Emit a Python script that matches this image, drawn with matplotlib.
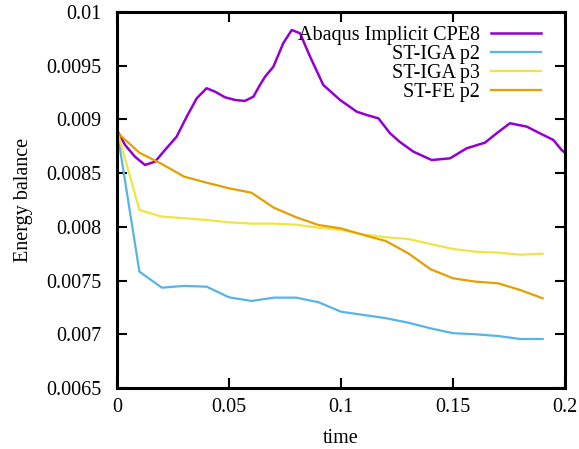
import matplotlib
matplotlib.use('Agg')
import matplotlib.pyplot as plt
from matplotlib.ticker import FuncFormatter

# time steps for the ST runs
t_st = [0.0, 0.01, 0.02, 0.03, 0.04, 0.05, 0.06, 0.07, 0.08, 0.09, 0.10,
        0.11, 0.12, 0.13, 0.14, 0.15, 0.16, 0.17, 0.18, 0.19]

iga_p2 = [0.00890, 0.007583, 0.007434, 0.007450, 0.007443, 0.007344, 0.007310,
          0.007341, 0.007341, 0.007298, 0.007210, 0.007180, 0.007150, 0.007108,
          0.007055, 0.007010, 0.007000, 0.006984, 0.006956, 0.006956]
iga_p3 = [0.00890, 0.008157, 0.008095, 0.008080, 0.008064, 0.008042, 0.008030,
          0.008030, 0.008020, 0.007992, 0.007971, 0.007930, 0.007903, 0.007887,
          0.007840, 0.007794, 0.007769, 0.007760, 0.007741, 0.007750]
fe_p2 = [0.00888, 0.008690, 0.008585, 0.008467, 0.008411, 0.008359, 0.008318,
         0.008178, 0.008089, 0.008017, 0.007986, 0.007924, 0.007868, 0.007754,
         0.007605, 0.007521, 0.007490, 0.007475, 0.007412, 0.007335]

# Abaqus reference curve
t_abq = [0.0, 0.0036, 0.0080, 0.0125, 0.0170, 0.0214, 0.0266, 0.0311, 0.0356,
         0.0400, 0.0438, 0.0482, 0.0527, 0.0571, 0.0609, 0.0638, 0.0661, 0.0698,
         0.0742, 0.0780, 0.0817, 0.0862, 0.0921, 0.0996, 0.1070, 0.1115, 0.1167,
         0.1219, 0.1263, 0.1323, 0.1405, 0.1487, 0.1561, 0.1643, 0.1695, 0.1754,
         0.1829, 0.1903, 0.1948, 0.1985, 0.2000]
abq = [0.008900, 0.008762, 0.008653, 0.008576, 0.008607, 0.008715, 0.008839,
       0.009025, 0.009197, 0.009290, 0.009258, 0.009206, 0.009181, 0.009172,
       0.009212, 0.009320, 0.009398, 0.009490, 0.009709, 0.009832, 0.009802,
       0.009584, 0.009320, 0.009181, 0.009072, 0.009041, 0.009010, 0.008871,
       0.008790, 0.008700, 0.008622, 0.008638, 0.008731, 0.008784, 0.008871,
       0.008964, 0.008933, 0.008855, 0.008809, 0.008715, 0.008690]

plt.rcParams['font.family'] = ['Liberation Serif', 'DejaVu Serif']

fig = plt.figure(figsize=(5.79, 4.49), dpi=100)
ax = fig.add_axes([0.2021, 0.1359, 0.7737, 0.8374])

lw = 1.6
ax.plot(t_abq, abq, color='#9400d3', lw=1.8, label='Abaqus Implicit CPE8')
ax.plot(t_st, iga_p2, color='#56b4e9', lw=lw, label='ST-IGA p2')
ax.plot(t_st, iga_p3, color='#f0e442', lw=lw, label='ST-IGA p3')
ax.plot(t_st, fe_p2, color='#e69f00', lw=lw, label='ST-FE p2')

ax.set_xlim(0, 0.2)
ax.set_ylim(0.0065, 0.01)
ax.set_xticks([0, 0.05, 0.1, 0.15, 0.2])
ax.set_yticks([0.0065, 0.007, 0.0075, 0.008, 0.0085, 0.009, 0.0095, 0.01])
fmt = FuncFormatter(lambda v, p: '%g' % round(v, 6))
ax.xaxis.set_major_formatter(fmt)
ax.yaxis.set_major_formatter(fmt)
ax.tick_params(direction='in', top=True, right=True, length=7, width=1.5,
               labelsize=14.5)
ax.tick_params(axis='y', pad=11)
ax.tick_params(axis='x', pad=7)
for s in ax.spines.values():
    s.set_linewidth(2.2)

ax.set_xlabel('time', fontsize=14.5, labelpad=9)
ax.set_ylabel('Energy balance', fontsize=14.5, labelpad=10)

ax.legend(loc='upper right', frameon=False, markerfirst=False, fontsize=14.5,
          handlelength=2.5, handletextpad=0.55, labelspacing=0.0,
          borderaxespad=0.2, bbox_to_anchor=(0.974, 0.995))

fig.savefig('out.png', dpi=100)
